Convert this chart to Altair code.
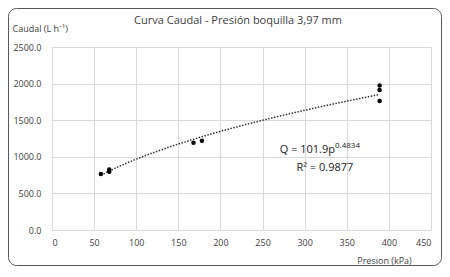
import altair as alt
import pandas as pd

presion = [58, 68, 68, 168, 178, 389, 389, 389]
caudal = [765, 795, 825, 1193, 1218, 1975, 1912, 1763]

x_ticks = [0, 50, 100, 150, 200, 250, 300, 350, 400, 450]
y_ticks = [0, 500, 1000, 1500, 2000, 2500]

title_text = ["Curva Caudal - Presión boquilla 3,97 mm"]
eq_main = ["Q = 101.9p"]
eq_exp = ["0.4834"]
r2_text = ["R² = 0.9877"]

df = pd.DataFrame({"Presion": presion, "Caudal": caudal})
FONT = "Open Sans"

xscale = alt.Scale(domain=[0, 450], nice=False)
yscale = alt.Scale(domain=[0, 2500], nice=False)

xaxis = alt.Axis(values=x_ticks, format="d", labelOverlap=False,
                 title="Presion (kPa)", titleX=332, titleY=33,
                 titleAlign="center", titleBaseline="alphabetic")
yaxis = alt.Axis(values=y_ticks, format=".1f", labelOverlap=False,
                 title="Caudal (L h⁻¹)", titleAngle=0, titleX=-40,
                 titleY=-16, titleAlign="left", titleBaseline="alphabetic")

frame = alt.Chart(pd.DataFrame({"a": [0]})).mark_rect(
    fillOpacity=0, stroke="#595959", strokeWidth=1, cornerRadius=8
).encode(
    x=alt.value(-43.5), x2=alt.value(389.5), y=alt.value(-38.5), y2=alt.value(218.5)
)

title = alt.Chart(pd.DataFrame({"t": title_text})).mark_text(
    font=FONT, fontSize=11, color="#404040", align="center", baseline="alphabetic"
).encode(x=alt.value(186), y=alt.value(-23), text="t:N")

points = alt.Chart(df).mark_circle(size=20, color="black", opacity=1).encode(
    x=alt.X("Presion:Q", scale=xscale, axis=xaxis),
    y=alt.Y("Caudal:Q", scale=yscale, axis=yaxis),
)

trend = alt.Chart(df).transform_regression(
    "Presion", "Caudal", method="pow"
).mark_line(color="#333333", strokeWidth=1.5, strokeDash=[1.5, 1.5]).encode(
    x=alt.X("Presion:Q", scale=xscale, axis=xaxis),
    y=alt.Y("Caudal:Q", scale=yscale, axis=yaxis),
)

eq_df = pd.DataFrame({"t": eq_main, "e": eq_exp, "Presion": [336], "Caudal": [1055]})
eq1 = alt.Chart(eq_df).mark_text(
    font=FONT, fontSize=11, color="#222222", align="right", baseline="alphabetic"
).encode(x=alt.X("Presion:Q", scale=xscale, axis=xaxis),
         y=alt.Y("Caudal:Q", scale=yscale, axis=yaxis), text="t:N")

eq2 = alt.Chart(eq_df).mark_text(
    font=FONT, fontSize=8, color="#222222", align="left", baseline="alphabetic", dy=-5
).encode(x=alt.X("Presion:Q", scale=xscale, axis=xaxis),
         y=alt.Y("Caudal:Q", scale=yscale, axis=yaxis), text="e:N")

r2_df = pd.DataFrame({"t": r2_text, "Presion": [324], "Caudal": [800]})
r2 = alt.Chart(r2_df).mark_text(
    font=FONT, fontSize=11, color="#222222", align="center", baseline="alphabetic"
).encode(x=alt.X("Presion:Q", scale=xscale, axis=xaxis),
         y=alt.Y("Caudal:Q", scale=yscale, axis=yaxis), text="t:N")

chart = alt.layer(frame, title, trend, points, eq1, eq2, r2).properties(
    width=379, height=183,
    autosize=alt.AutoSizeParams(type="none"),
    padding={"left": 44, "top": 39, "right": 11, "bottom": 36},
).configure_view(stroke=None).configure_axis(
    grid=True, gridColor="#d9d9d9", gridWidth=1, domain=False, ticks=False,
    labelFont=FONT, labelFontSize=9, labelColor="#404040",
    titleFont=FONT, titleFontSize=9, titleColor="#404040", titleFontWeight="normal",
).configure_axisX(labelPadding=8).configure_axisY(labelPadding=11)

chart.save("out.html", embed_options={"renderer": "svg", "actions": False})
